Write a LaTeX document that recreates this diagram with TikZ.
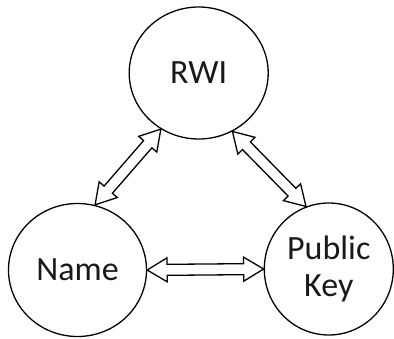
\documentclass[tikz,border=0pt]{standalone}
\usepackage{fontspec}
\setmainfont{Carlito}
\usetikzlibrary{shapes.geometric,decorations.markings}

% hollow two-headed arrow drawn along a straight connector
\tikzset{
  hollowarrow/.style={
    decorate,
    decoration={markings,
      mark=at position 0pt with {
        \draw[line width=1.3pt, line join=miter, fill=white]
          (0pt,0pt) -- (20pt,12pt) -- (20pt,5.5pt)
          -- (\pgfdecoratedpathlength-20pt,5.5pt)
          -- (\pgfdecoratedpathlength-20pt,12pt)
          -- (\pgfdecoratedpathlength,0pt)
          -- (\pgfdecoratedpathlength-20pt,-12pt)
          -- (\pgfdecoratedpathlength-20pt,-5.5pt)
          -- (20pt,-5.5pt) -- (20pt,-12pt) -- cycle;
      }}
  },
  entity/.style={draw, ellipse, line width=1.3pt, inner sep=0pt,
    align=center, font=\fontsize{34}{37}\selectfont, text=black!90}
}

\begin{document}
\begin{tikzpicture}[x=1pt,y=-1pt]
  \useasboundingbox (0,0) rectangle (394,338);

  \node[entity, minimum width=139pt, minimum height=132pt] (rwi)  at (198.7,73)  {RWI};
  \node[entity, minimum width=138pt, minimum height=133pt] (name) at (77.5,270)  {Name};
  \node[entity, minimum width=129pt, minimum height=132pt] (key)  at (328.8,269) {Public\\Key};

  \path[hollowarrow] (rwi.-124.2) -- (name.75.5);
  \path[hollowarrow] (rwi.-60.7)  -- (key.110.5);
  \path[hollowarrow] (name.0)     -- (key.180);
\end{tikzpicture}
\end{document}
